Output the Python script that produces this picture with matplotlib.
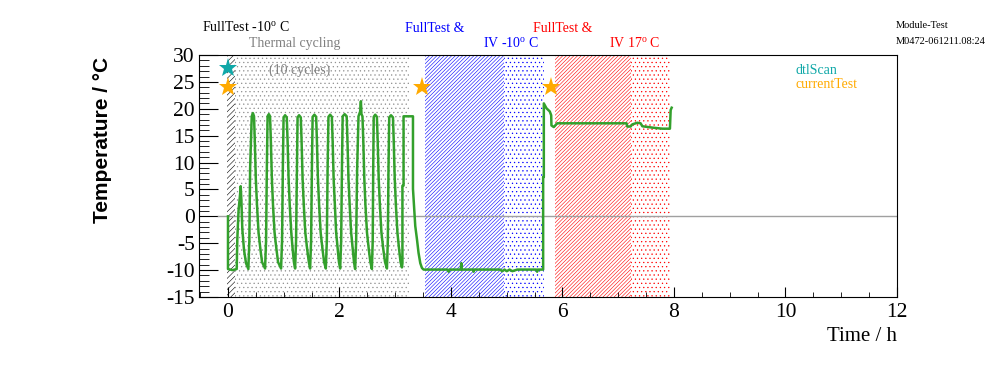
import matplotlib
matplotlib.use("Agg")
import matplotlib.pyplot as plt

plt.rcParams['font.family'] = ['Liberation Serif', 'DejaVu Serif']
plt.rcParams['mathtext.fontset'] = 'custom'
plt.rcParams['mathtext.rm'] = 'Liberation Serif'
plt.rcParams['hatch.linewidth'] = 0.4

# temperature log (hours, deg C)
time_h = [0.000, 0.000, 0.080, 0.156, 0.167, 0.189, 0.216, 0.228, 0.240, 0.257, 0.287, 0.323,
          0.365, 0.383, 0.397, 0.426, 0.447, 0.467, 0.481, 0.499, 0.521, 0.548, 0.580, 0.611,
          0.665, 0.683, 0.697, 0.710, 0.733, 0.754, 0.769, 0.787, 0.808, 0.835, 0.868, 0.898,
          0.952, 0.970, 0.984, 0.997, 1.024, 1.054, 1.069, 1.087, 1.108, 1.135, 1.159, 1.182,
          1.204, 1.221, 1.236, 1.248, 1.275, 1.306, 1.320, 1.338, 1.360, 1.387, 1.419, 1.450,
          1.473, 1.491, 1.505, 1.518, 1.550, 1.581, 1.595, 1.613, 1.635, 1.662, 1.694, 1.724,
          1.755, 1.773, 1.787, 1.802, 1.832, 1.863, 1.877, 1.895, 1.917, 1.940, 1.967, 1.990,
          2.012, 2.030, 2.044, 2.057, 2.093, 2.129, 2.143, 2.161, 2.183, 2.209, 2.236, 2.260,
          2.281, 2.299, 2.317, 2.341, 2.371, 2.384, 2.394, 2.412, 2.427, 2.445, 2.466, 2.493, 2.524, 2.554,
          2.581, 2.596, 2.605, 2.614, 2.641, 2.671, 2.685, 2.703, 2.725, 2.752, 2.784, 2.817,
          2.851, 2.867, 2.879, 2.892, 2.924, 2.959, 2.973, 2.991, 3.012, 3.039, 3.068, 3.095,
          3.120, 3.129, 3.129, 3.149, 3.149, 3.300, 3.318, 3.318, 3.341, 3.359, 3.390, 3.418, 3.449, 3.479, 3.508,
          3.940, 3.957, 3.975, 4.175, 4.185, 4.195, 4.395, 4.406, 4.420, 4.880, 4.920, 4.960, 5.000,
          5.050, 5.100, 5.190, 5.530, 5.545, 5.560, 5.653,
          5.653, 5.665, 5.665, 5.712, 5.772, 5.797, 5.802, 5.844, 5.904,
          7.149, 7.162, 7.221, 7.252, 7.342, 7.401, 7.432, 7.611, 7.791, 7.927, 7.940, 7.958]
temp_c = [0.0, -9.8, -10.0, -9.8, -4.3, 1.0, 4.0, 5.6, 3.0, -2.4, -6.2, -8.7,
          -9.8, -4.5, 9.0, 18.6, 19.2, 18.6, 14.0, 7.0, 2.0, -3.0, -6.0, -8.5,
          -9.7, -4.5, 9.0, 18.6, 19.0, 18.6, 14.0, 7.0, 2.0, -3.0, -6.0, -8.5,
          -9.7, -4.5, 9.0, 18.4, 18.8, 18.4, 14.0, 7.0, 2.0, -3.0, -6.0, -8.5,
          -9.7, -4.5, 9.0, 18.4, 18.8, 18.4, 14.0, 7.0, 2.0, -3.0, -6.0, -8.5,
          -9.7, -4.5, 9.0, 18.5, 18.9, 18.5, 14.0, 7.0, 2.0, -3.0, -6.0, -8.5,
          -9.7, -4.5, 9.0, 18.5, 18.9, 18.5, 14.0, 7.0, 2.0, -3.0, -6.0, -8.5,
          -9.7, -4.5, 9.0, 18.6, 19.0, 18.6, 14.0, 7.0, 2.0, -3.0, -6.0, -8.5,
          -9.8, -4.5, 9.0, 18.6, 19.5, 21.4, 19.0, 18.6, 14.0, 7.0, 2.0, -3.0, -6.0, -8.5,
          -9.8, -4.5, 9.0, 18.5, 18.9, 18.5, 14.0, 7.0, 2.0, -3.0, -6.0, -8.5,
          -9.7, -4.5, 9.0, 18.4, 18.8, 18.4, 14.0, 7.0, 2.0, -3.0, -6.0, -8.5,
          -9.5, -8.7, 5.7, 5.7, 18.6, 18.6, 18.6, 5.1, 1.3, -1.8, -4.3, -6.8, -8.7, -9.6, -9.9,
          -9.9, -10.3, -9.9, -9.9, -8.7, -9.9, -9.9, -10.3, -9.9, -9.9, -10.2, -9.9, -10.2,
          -9.9, -10.2, -9.9, -9.9, -10.3, -9.9, -9.9,
          7.3, 7.3, 21.0, 20.1, 19.5, 18.8, 16.9, 16.6, 17.3,
          17.3, 16.7, 16.7, 17.1, 17.4, 17.3, 16.75, 16.5, 16.3, 16.3, 19.75, 20.2]

# test phases: start, end, colour, pattern
phase_start = [-0.02, 0.13, 3.54, 4.95, 5.86, 7.22]
phase_end = [0.13, 3.25, 4.95, 5.66, 7.22, 7.92]
phase_color = ['black', '#909090', 'blue', 'blue', 'red', 'red']
phase_hatch = ['/' * 6, '....', '/' * 9, '....', '/' * 9, '....']

# markers
dtl_t = [0.005]
dtl_y = [27.6]
cur_t = [0.005, 3.48, 5.80]
cur_y = [24.1, 24.1, 24.1]

fig = plt.figure(figsize=(9.96, 3.72), dpi=100)
ax = fig.add_axes([199/996, 1-297/372, 698/996, 242/372])

for s, e, c, h in zip(phase_start, phase_end, phase_color, phase_hatch):
    ax.axvspan(s, e, facecolor='none', edgecolor=c, hatch=h, linewidth=0, zorder=1)

ax.plot([-0.18, 12], [0, 0], color='#a0a0a0', lw=1, zorder=2)
ax.plot(time_h, temp_c, color='#33a02c', lw=1.8, zorder=3)
ax.plot(dtl_t, dtl_y, '*', color='#10a8a8', ms=14, mew=0, zorder=4)
ax.plot(cur_t, cur_y, '*', color='#ffaa00', ms=14, mew=0, zorder=4)

ax.set_xlim(-0.52, 12)
ax.set_ylim(-15, 30)
ax.set_xticks(range(0, 13, 2))
ax.set_xticks([i * 0.5 for i in range(-1, 25)], minor=True)
ax.set_yticks(range(-15, 31, 5))
ax.set_yticks(range(-15, 31), minor=True)
ax.tick_params(axis='both', which='both', direction='in', labelsize=15.5,
               top=False, right=False)
ax.tick_params(axis='x', which='major', length=7, pad=4)
ax.tick_params(axis='x', which='minor', length=3.5)
ax.tick_params(axis='y', which='major', length=14, pad=3)
ax.tick_params(axis='y', which='minor', length=7)
ax.set_yticklabels([str(v) for v in range(-15, 31, 5)])
ax.set_xticklabels([str(v) for v in range(0, 13, 2)])

ax.set_xlabel('Time / h', fontsize=15, loc='right')
ax.xaxis.set_label_coords(1.0, -0.125)
ax.set_ylabel('Temperature / \u00b0C', fontsize=15, loc='top', family='Liberation Sans',
              fontweight='bold')
ax.yaxis.set_label_coords(-0.125, 0.992)


def ftext(x, y, s, **kw):
    fig.text(x / 996, 1 - y / 372, s, va='center', **kw)


ftext(202, 28, 'FullTest -10$^{\\mathrm{o}}$ C', fontsize=10, color='black')
ftext(249, 44, 'Thermal cycling', fontsize=10, color='#808080')
ftext(405, 28, 'FullTest &', fontsize=10, color='blue')
ftext(483, 44, 'IV -10$^{\\mathrm{o}}$ C', fontsize=10, color='blue')
ftext(533, 28, 'FullTest &', fontsize=10, color='red')
ftext(609, 44, 'IV 17$^{\\mathrm{o}}$ C', fontsize=10, color='red')
ftext(269, 70, '(10 cycles)', fontsize=10, color='#808080')
ftext(896, 25, 'Module-Test', fontsize=7.5, color='black')
ftext(896, 41, 'M0472-061211.08:24', fontsize=7.5, color='black')
ftext(796, 70, 'dtlScan', fontsize=10, color='#10a8a8')
ftext(796, 85, 'currentTest', fontsize=10, color='#ffaa00')

fig.savefig('out.png', dpi=100)
